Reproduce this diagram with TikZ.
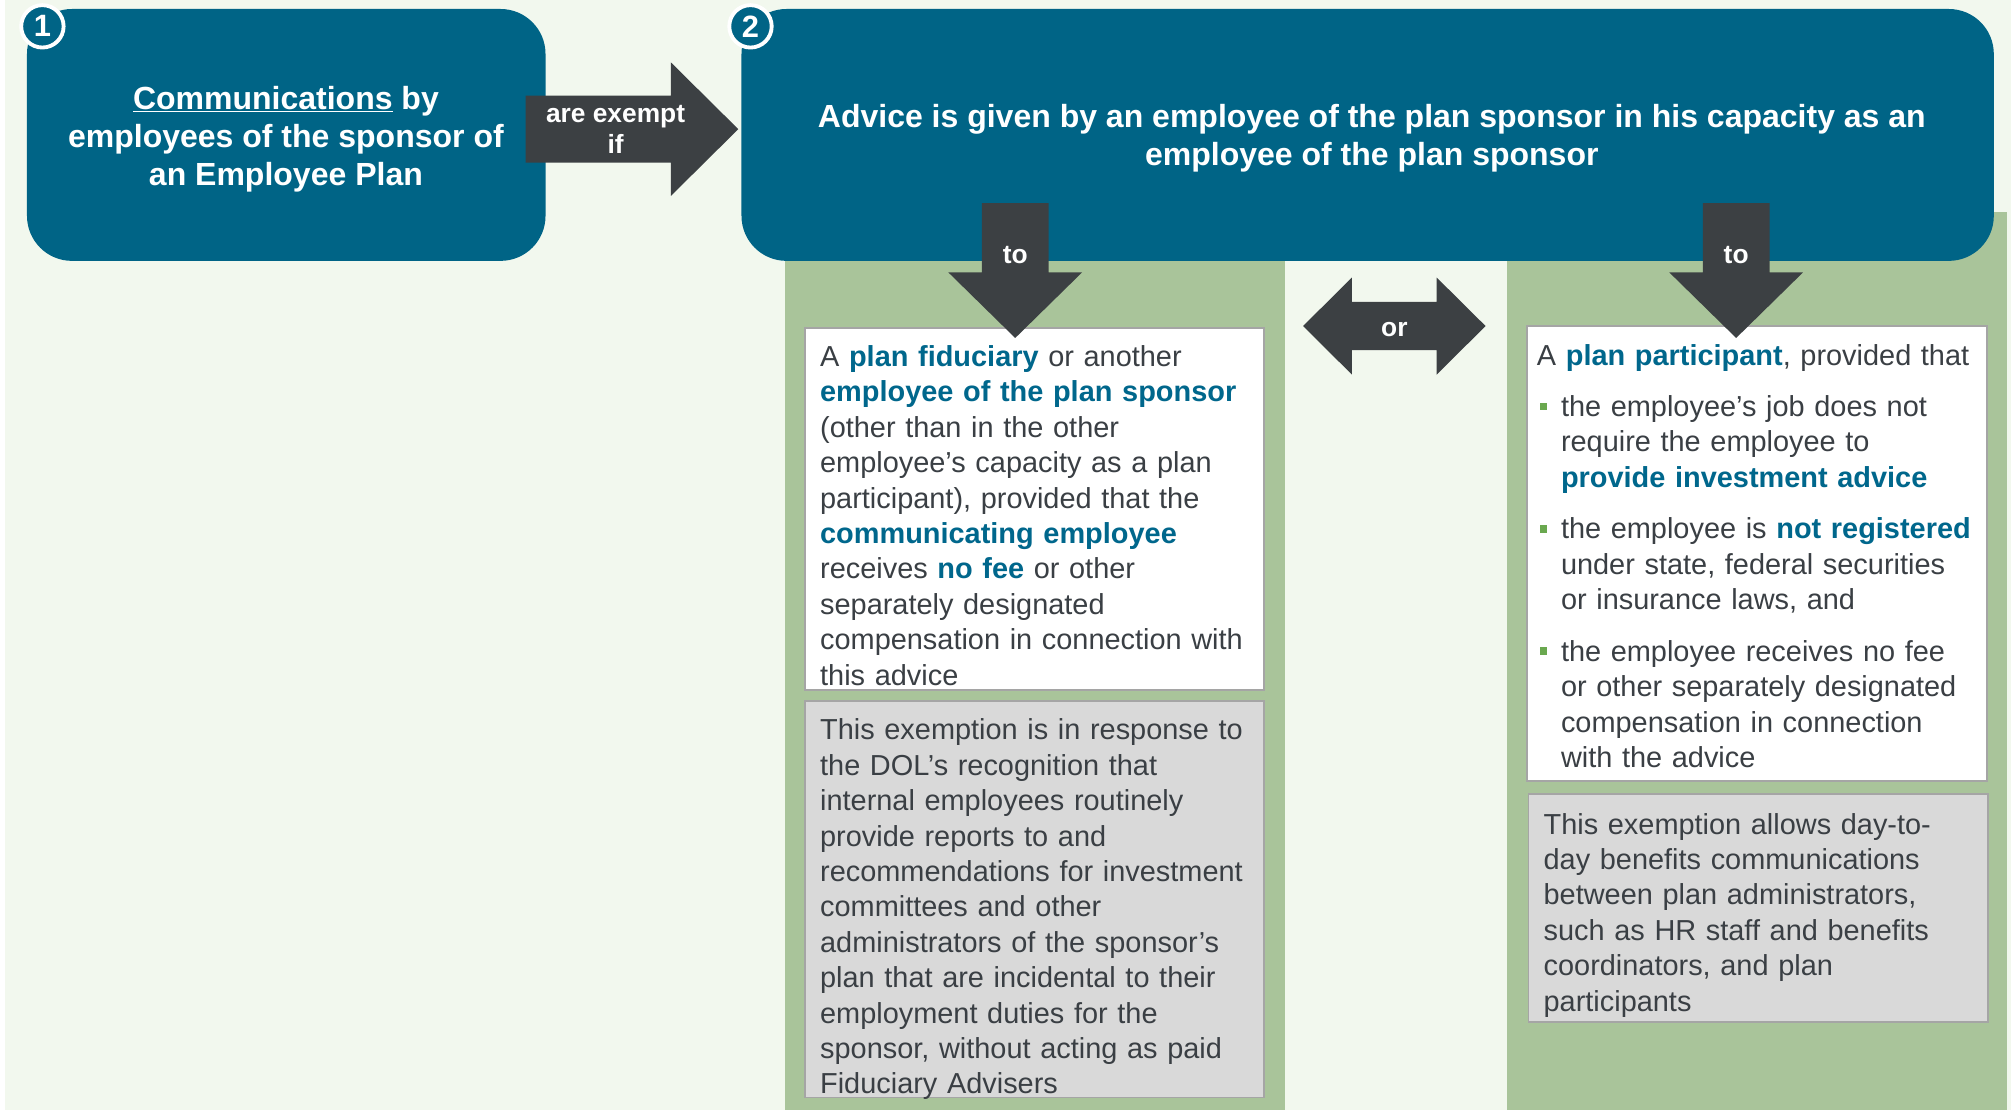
\documentclass[tikz,border=0pt]{standalone}
\usepackage{fontspec}
\setmainfont{Liberation Sans}
\usepackage{tikz}

\definecolor{pagebg}{HTML}{F2F8EE}
\definecolor{planteal}{HTML}{006486}
\definecolor{darkarrow}{HTML}{3C4043}
\definecolor{colgreen}{HTML}{A9C49A}
\definecolor{notegray}{HTML}{D9D9D9}
\definecolor{framegray}{HTML}{A5A5A5}
\definecolor{textgray}{HTML}{3A3F44}
\definecolor{keyblue}{HTML}{00678C}
\definecolor{dotgreen}{HTML}{6AA84F}

\newcommand{\keyword}[1]{\textbf{\color{keyblue}#1}}
\newcommand{\bpoint}{\makebox[18.7pt][l]{\hspace{2pt}\textcolor{dotgreen}{\rule[4.7pt]{6pt}{6pt}}}}
\newcommand{\bindent}{\hspace*{18.7pt}}

\begin{document}
\begin{tikzpicture}[x=1pt,y=-1pt,
  numring/.style={circle, fill=planteal, draw=white, line width=3pt, minimum size=33pt, inner sep=0pt, text=white, font=\fontsize{24}{28}\selectfont\bfseries},
  headtext/.style={text=white, align=center, inner sep=0pt, anchor=north, font=\fontsize{24.9}{29.5}\selectfont\bfseries},
  arrowtext/.style={text=white, align=center, inner sep=0pt, font=\fontsize{20.5}{24.5}\selectfont\bfseries},
  whitebox/.style={fill=white, draw=framegray, line width=1.5pt},
  graybox/.style={fill=notegray, draw=framegray, line width=1.5pt},
  bodytext/.style={text=textgray, align=left, inner sep=0pt, text width=350pt, anchor=north west, font=\fontsize{22.5}{27.55}\selectfont}]
\useasboundingbox (0,0) rectangle (1568,864);
\fill [white] (0,0) rectangle (1568,864);
\fill [pagebg] (4,0) rectangle (1565,864);

\coordinate (B1a) at (21,7);
\coordinate (B1b) at (424.5,203);
\coordinate (B2a) at (577,7);
\coordinate (B2b) at (1551.5,203);

\coordinate (CLa) at (611,165);
\coordinate (CLb) at (1000,864);
\coordinate (CRa) at (1172.5,165);
\coordinate (CRb) at (1562,864);

\coordinate (WLa) at (626.5,255.5);
\coordinate (WLb) at (983.7,537);
\coordinate (GLa) at (626.5,545.3);
\coordinate (GLb) at (983.7,854);
\coordinate (WRa) at (1188.6,253.7);
\coordinate (WRb) at (1546.5,607.8);
\coordinate (GRa) at (1189.4,618.2);
\coordinate (GRb) at (1547.3,795);

\coordinate (N1) at (33,20.5);
\coordinate (N2) at (584,20.5);

\fill [colgreen] (CLa) rectangle (CLb);
\fill [colgreen] (CRa) rectangle (CRb);

\fill [planteal, rounded corners=35pt] (B1a) rectangle (B1b);
\fill [planteal, rounded corners=35pt] (B2a) rectangle (B2b);

\draw [whitebox] (WLa) rectangle (WLb);
\draw [graybox] (GLa) rectangle (GLb);
\draw [whitebox] (WRa) rectangle (WRb);
\draw [graybox] (GRa) rectangle (GRb);

\fill [darkarrow] (409,74.5)--(522,74.5)--(522,48.5)--(574.5,100.5)--(522,152.5)--(522,126.5)--(409,126.5)--cycle;
\fill [darkarrow] (764,158)--(816,158)--(816,212)--(842,212)--(790,263)--(738,212)--(764,212)--cycle;
\fill [darkarrow] (1325,158)--(1377,158)--(1377,212)--(1403,212)--(1351,263)--(1299,212)--(1325,212)--cycle;
\fill [darkarrow] (1014,253.7)--(1052,216)--(1052,235)--(1118,235)--(1118,216)--(1156,253.7)--(1118,291.5)--(1118,272.5)--(1052,272.5)--(1052,291.5)--cycle;

\node [numring] (one) at (N1) {1};
\node [numring] (two) at (N2) {2};

\node [headtext] (commtext) at (222.5,64.2) {\strut\underline{Communications} by\\employees of the sponsor of\\an Employee Plan};
\node [headtext] (advicetext) at (1067.5,78.6) {\strut Advice is given by an employee of the plan sponsor in his capacity as an\\employee of the plan sponsor};

\node [arrowtext, anchor=north] (exempt) at (479,77.9) {\strut are exempt\\if};
\node [arrowtext, anchor=base] (toleft) at (790,204.8) {to};
\node [arrowtext, anchor=base] (toright) at (1351,204.8) {to};
\node [arrowtext, anchor=base] (ortext) at (1085,261.5) {or};

\node [bodytext] (fiduciary) at (638,265.7) {\strut A \keyword{plan fiduciary} or another\\
\keyword{employee of the plan sponsor}\\
(other than in the other\\
employee’s capacity as a plan\\
participant), provided that the\\
\keyword{communicating employee}\\
receives \keyword{no fee} or other\\
separately designated\\
compensation in connection with\\
this advice};

\node [bodytext] (dolnote) at (638,556.3) {\strut This exemption is in response to\\
the DOL’s recognition that\\
internal employees routinely\\
provide reports to and\\
recommendations for investment\\
committees and other\\
administrators of the sponsor’s\\
plan that are incidental to their\\
employment duties for the\\
sponsor, without acting as paid\\
Fiduciary Advisers};

\node [bodytext] (participant) at (1195.8,264.6) {\strut A \keyword{plan participant}, provided that\\[12.4pt]
\bpoint the employee’s job does not\\
\bindent require the employee to\\
\bindent\keyword{provide investment advice}\\[12.6pt]
\bpoint the employee is \keyword{not registered}\\
\bindent under state, federal securities\\
\bindent or insurance laws, and\\[12.6pt]
\bpoint the employee receives no fee\\
\bindent or other separately designated\\
\bindent compensation in connection\\
\bindent with the advice};

\node [bodytext] (daynote) at (1201,629.5) {\strut This exemption allows day-to-\\
day benefits communications\\
between plan administrators,\\
such as HR staff and benefits\\
coordinators, and plan\\
participants};

\end{tikzpicture}
\end{document}
